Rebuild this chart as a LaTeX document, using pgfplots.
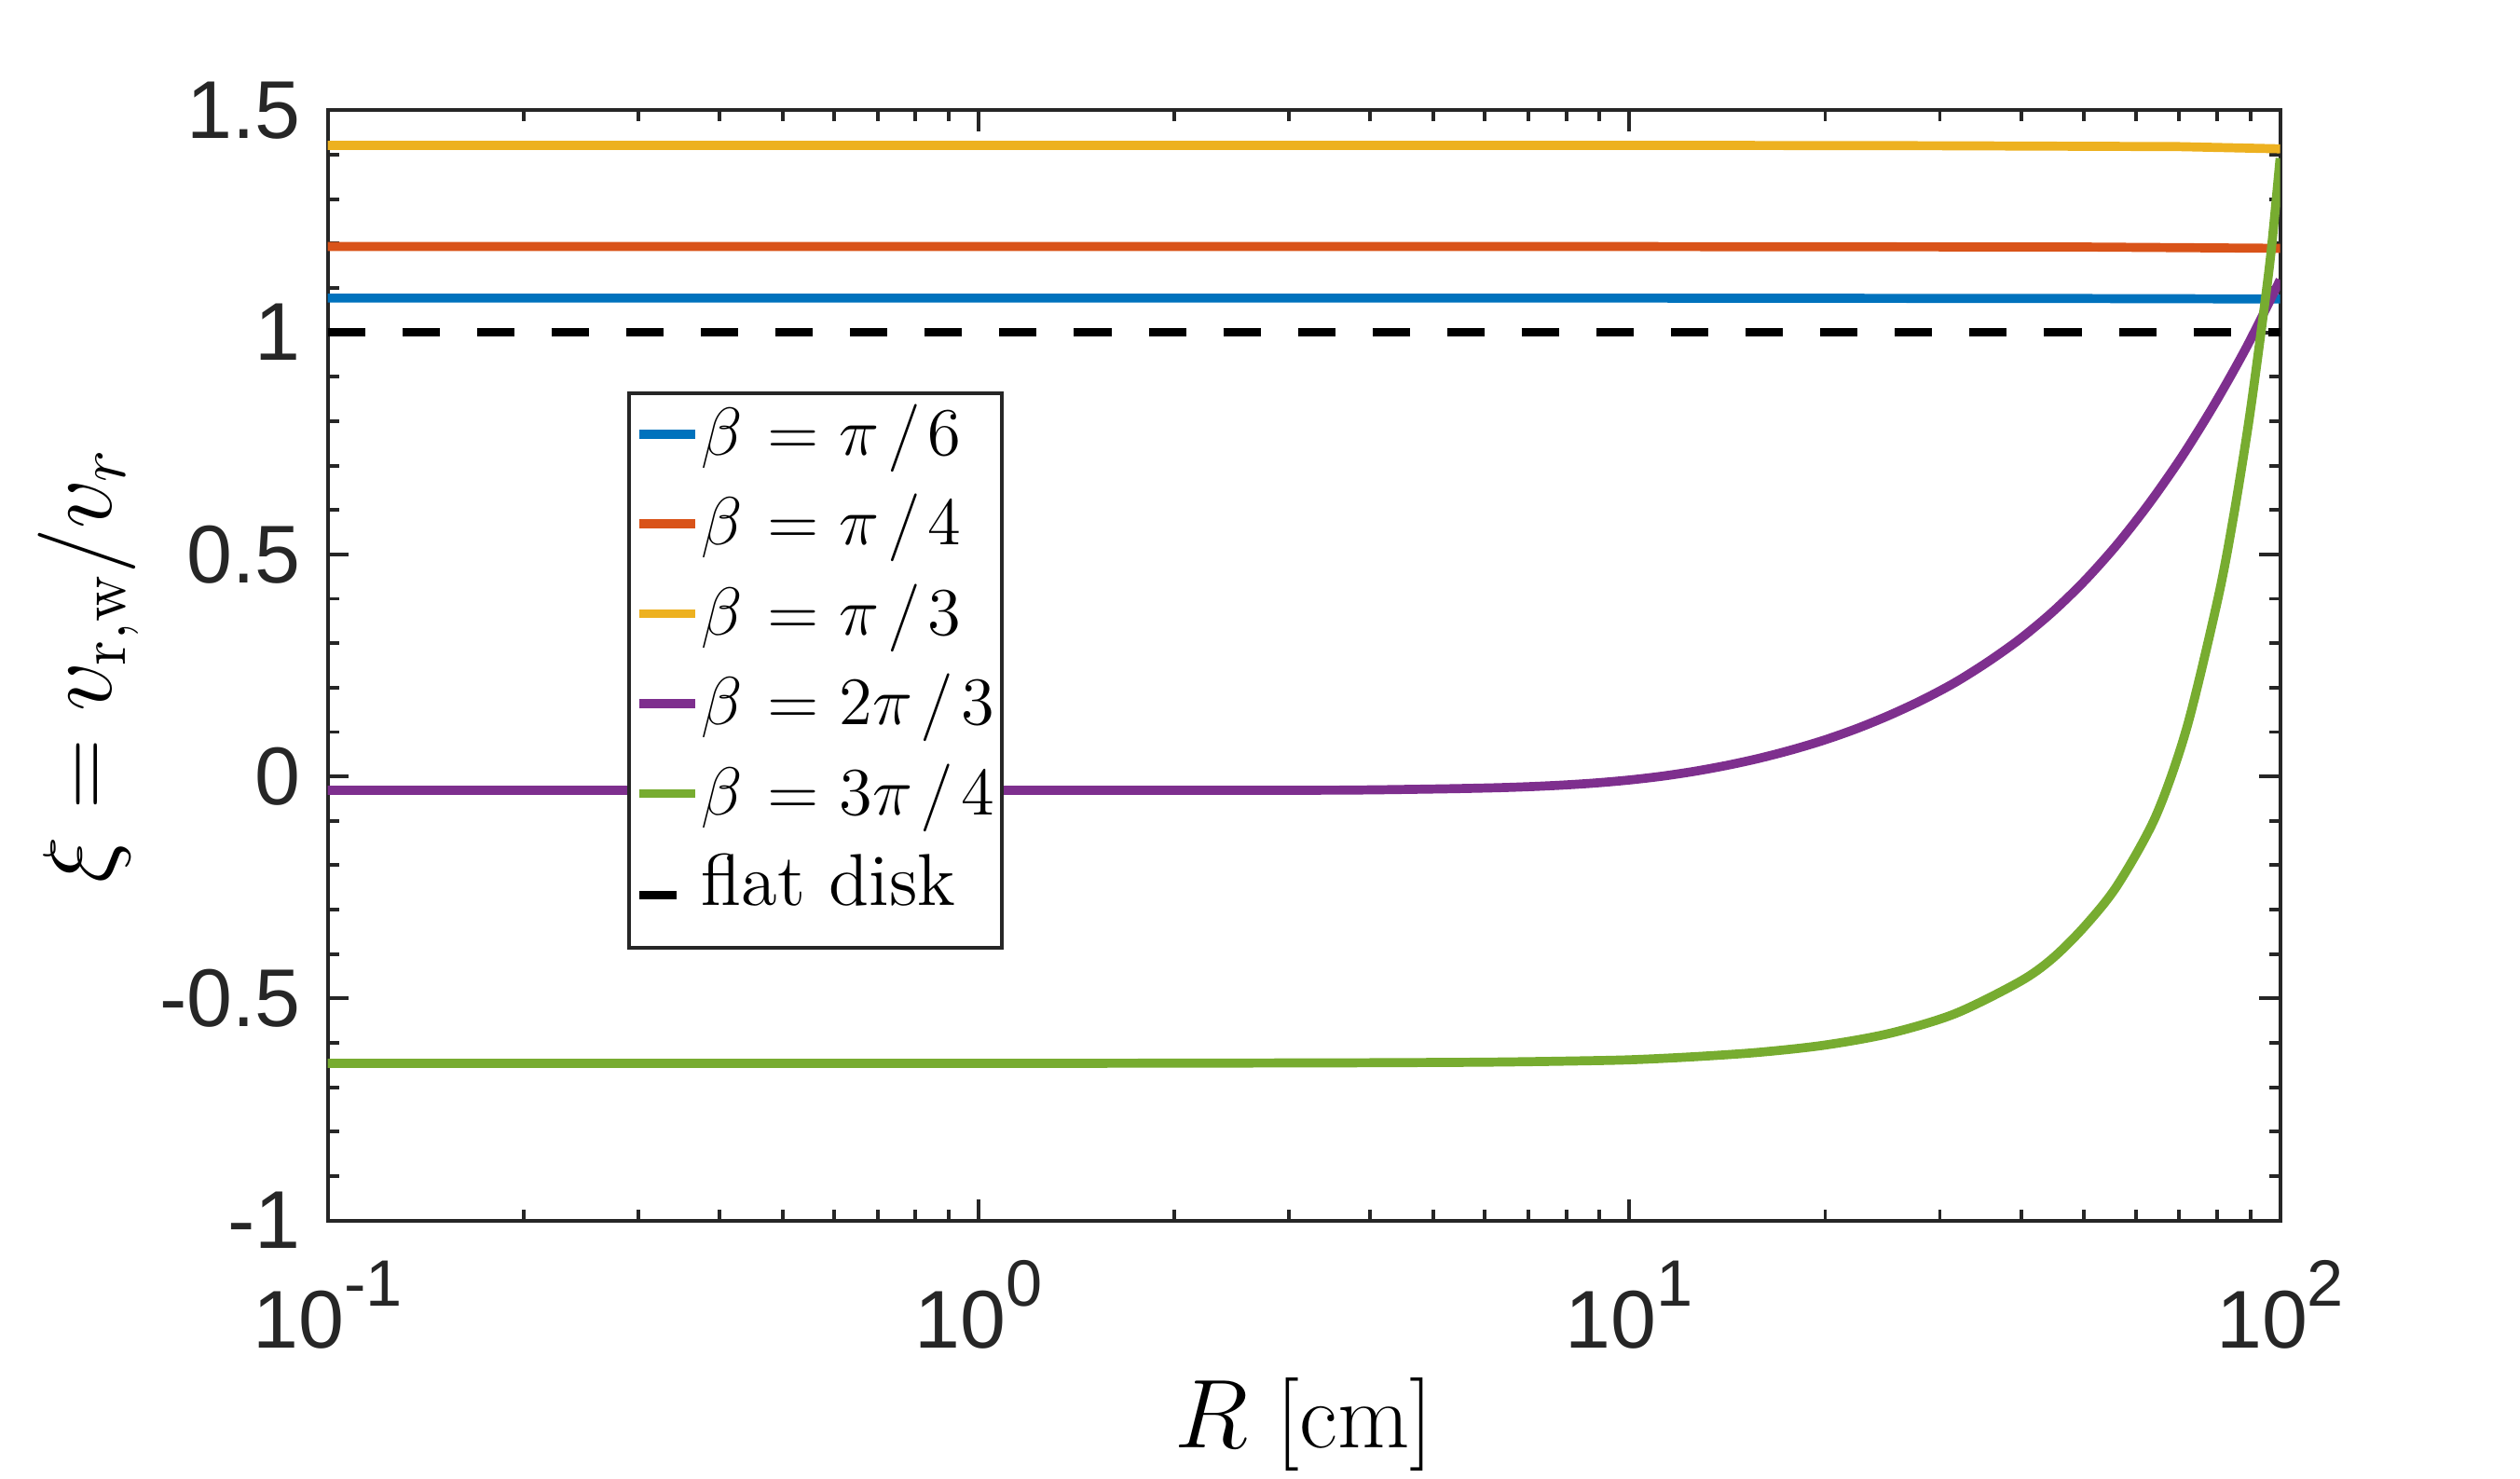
\documentclass[border=0pt]{standalone}
\usepackage{fontspec}
\usepackage{pgfplots}
\pgfplotsset{compat=1.18}
\newfontfamily\helv{Liberation Sans}
\definecolor{mblue}{rgb}{0,0.447,0.741}
\definecolor{mred}{rgb}{0.850,0.325,0.098}
\definecolor{myellow}{rgb}{0.929,0.694,0.125}
\definecolor{mpurple}{rgb}{0.494,0.184,0.556}
\definecolor{mgreen}{rgb}{0.466,0.674,0.188}
\definecolor{axgray}{rgb}{0.15,0.15,0.15}
\newcommand{\sx}[1]{10\raisebox{7.4pt}{\fontsize{11.6}{12}\selectfont #1}}
\newcommand{\leg}[1]{$\beta\mkern1.5mu=\mkern0.5mu #1$}
\begin{document}
\begin{tikzpicture}
\useasboundingbox (-2.038cm,-1.601cm) rectangle (13.628cm,7.588cm);
\begin{axis}[
  at={(0,0)}, anchor=south west,
  scale only axis, width=12.137cm, height=6.903cm,
  xmode=log, xmin=0.1, xmax=100, ymin=-1, ymax=1.5,
  xtick={0.1,1,10,100},
  xticklabels={\sx{-1},\sx{0},\sx{1},\sx{2}},
  minor xtick={0.2,0.3,0.4,0.5,0.6,0.7,0.8,0.9,2,3,4,5,6,7,8,9,20,30,40,50,60,70,80,90},
  ytick={-1,-0.5,0,0.5,1,1.5},
  yticklabels={-1,-0.5,0,0.5,1,1.5},
  minor ytick={-0.9,-0.8,-0.7,-0.6,-0.4,-0.3,-0.2,-0.1,0.1,0.2,0.3,0.4,0.6,0.7,0.8,0.9,1.1,1.2,1.3,1.4},
  tick pos=both, tick align=inside,
  major tick length=0.13cm, minor tick length=0.07cm,
  every tick/.style={color=axgray, line width=0.65pt},
  axis line style={color=axgray, line width=0.65pt},
  ticklabel style={font=\helv\fontsize{14.5}{16}\selectfont, text=axgray},
  xticklabel style={anchor=base, yshift=-0.79cm},
  yticklabel style={anchor=east, inner sep=0pt, xshift=-0.16cm},
  xlabel={$R$ [cm]},
  xlabel style={font=\fontsize{16.5}{18}\selectfont, at={(axis description cs:0.5,-0.2046)}, anchor=base},
  ylabel={$\xi = v_{\mathrm{r,w}}/v_r$},
  ylabel style={font=\fontsize{16.5}{18}\selectfont, at={(axis description cs:-0.1110,0.5)}, anchor=base, rotate=0},
  legend style={at={(axis description cs:0.1532,0.747)}, anchor=north west,
    draw=axgray, line width=0.65pt, font=\fontsize{13}{15}\selectfont,
    inner xsep=1pt, inner ysep=0pt, row sep=1.4pt, nodes={inner xsep=0.3pt}},
  legend cell align=left,
  legend image code/.code={\draw[#1, line width=1.6pt] (0cm,0cm) -- (0.35cm,0cm);},
  every axis plot/.append style={line width=1.6pt},
]
\addplot[mblue] coordinates {(0.1,1.077) (10,1.077) (50,1.076) (100,1.075)};
\addlegendentry{\leg{\pi\mkern2mu/\mkern2mu6}}
\addplot[mred] coordinates {(0.1,1.193) (10,1.193) (50,1.192) (100,1.189)};
\addlegendentry{\leg{\pi\mkern2mu/\mkern2mu4}}
\addplot[myellow] coordinates {(0.1,1.421) (10,1.421) (30,1.420) (70,1.418) (100,1.413)};
\addlegendentry{\leg{\pi\mkern2mu/\mkern2mu3}}
\addplot[mpurple, smooth] coordinates {
(0.1,-0.031) (1,-0.031) (3.16,-0.031) (3.98,-0.0303) (5.01,-0.0283)
(5.62,-0.027) (6.31,-0.0253) (7.08,-0.0228) (7.94,-0.0193) (8.91,-0.0145)
(10,-0.008) (11.22,0.0005) (12.59,0.0115) (14.13,0.025) (15.85,0.041)
(17.78,0.060) (19.95,0.082) (22.39,0.108) (25.12,0.138) (28.18,0.172)
(31.62,0.211) (35.48,0.257) (39.81,0.309) (44.67,0.370) (50.12,0.441)
(56.23,0.523) (63.10,0.617) (70.79,0.722) (79.43,0.840) (89.13,0.971)
(100,1.118)};
\addlegendentry{\leg{2\pi\mkern2mu/\mkern2mu3}}
\addplot[mgreen, smooth] coordinates {
(0.1,-0.646) (1,-0.646) (3.16,-0.645) (5.01,-0.644) (6.31,-0.643)
(7.94,-0.641) (10,-0.638) (12.59,-0.631) (15.85,-0.621) (19.95,-0.605)
(25.12,-0.5785) (31.62,-0.5345) (39.81,-0.462) (44.67,-0.41)
(50.12,-0.337) (56.23,-0.245) (64.4,-0.09) (71.9,0.11) (80.3,0.402)
(84.9,0.589) (89.6,0.803) (93.7,1.012) (96.8,1.178) (100,1.392)};
\addlegendentry{\leg{3\pi\mkern2mu/\mkern2mu4}}
\addplot[black, dash pattern=on 6.6pt off 6.6pt] coordinates {(0.1,1) (100,1)};
\addlegendentry[text depth=5.5pt]{flat disk}
\end{axis}
\end{tikzpicture}
\end{document}
